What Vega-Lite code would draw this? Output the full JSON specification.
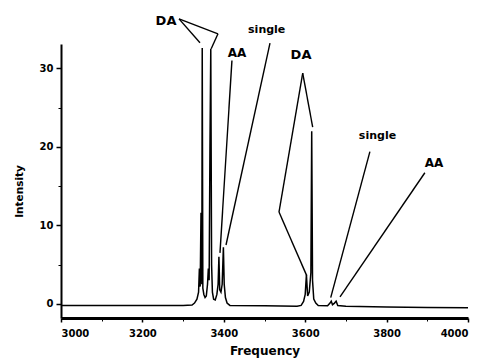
{
  "$schema": "https://vega.github.io/schema/vega-lite/v6.json",
  "width": 407,
  "height": 274,
  "autosize": {"type": "none"},
  "padding": {"left": 61, "top": 44, "right": 13, "bottom": 43},
  "background": "white",
  "config": {
    "view": {"stroke": null},
    "font": "DejaVu Sans",
    "axis": {
      "labelFont": "DejaVu Sans",
      "labelFontWeight": "bold",
      "labelFontSize": 10,
      "labelColor": "black",
      "titleFont": "DejaVu Sans",
      "titleFontWeight": "bold",
      "titleColor": "black",
      "domainColor": "black",
      "tickColor": "black",
      "grid": false
    }
  },
  "datasets": {
    "spectrum": [
      {"freq": 3000, "intensity": -0.2},
      {"freq": 3100, "intensity": -0.2},
      {"freq": 3200, "intensity": -0.2},
      {"freq": 3300, "intensity": -0.2},
      {"freq": 3322, "intensity": -0.15},
      {"freq": 3328, "intensity": 0.1},
      {"freq": 3334, "intensity": 0.6},
      {"freq": 3338, "intensity": 1.5},
      {"freq": 3340, "intensity": 4.5},
      {"freq": 3342, "intensity": 2.2},
      {"freq": 3344, "intensity": 11.6},
      {"freq": 3346, "intensity": 2.5},
      {"freq": 3347, "intensity": 32.6},
      {"freq": 3348.5, "intensity": 2},
      {"freq": 3351, "intensity": 1.2},
      {"freq": 3354, "intensity": 0.8},
      {"freq": 3357, "intensity": 1.0},
      {"freq": 3360, "intensity": 2.5},
      {"freq": 3362, "intensity": 4.5},
      {"freq": 3364, "intensity": 3},
      {"freq": 3366, "intensity": 20},
      {"freq": 3368, "intensity": 32.5},
      {"freq": 3370, "intensity": 5},
      {"freq": 3372, "intensity": 1.5},
      {"freq": 3375, "intensity": 0.6},
      {"freq": 3379, "intensity": 0.5},
      {"freq": 3383, "intensity": 1.2},
      {"freq": 3386, "intensity": 2.5},
      {"freq": 3388, "intensity": 6.0},
      {"freq": 3390, "intensity": 1.8},
      {"freq": 3393, "intensity": 1.5},
      {"freq": 3396, "intensity": 2.5},
      {"freq": 3399, "intensity": 7.2},
      {"freq": 3401, "intensity": 2.5},
      {"freq": 3404, "intensity": 0.8},
      {"freq": 3408, "intensity": 0.1},
      {"freq": 3415, "intensity": -0.2},
      {"freq": 3500, "intensity": -0.25},
      {"freq": 3580, "intensity": -0.3},
      {"freq": 3590, "intensity": -0.2},
      {"freq": 3596, "intensity": 0.3},
      {"freq": 3600, "intensity": 1.2},
      {"freq": 3603, "intensity": 3.7},
      {"freq": 3606, "intensity": 1.0},
      {"freq": 3610, "intensity": 1.5},
      {"freq": 3614, "intensity": 4},
      {"freq": 3616, "intensity": 22},
      {"freq": 3618, "intensity": 3},
      {"freq": 3621, "intensity": 0.6},
      {"freq": 3626, "intensity": 0.1},
      {"freq": 3632, "intensity": -0.2},
      {"freq": 3655, "intensity": -0.25},
      {"freq": 3661, "intensity": 0.1},
      {"freq": 3664, "intensity": 0.35},
      {"freq": 3667, "intensity": -0.1},
      {"freq": 3672, "intensity": 0.1},
      {"freq": 3676, "intensity": 0.35},
      {"freq": 3680, "intensity": -0.2},
      {"freq": 3700, "intensity": -0.3},
      {"freq": 3800, "intensity": -0.4},
      {"freq": 3900, "intensity": -0.45},
      {"freq": 4000, "intensity": -0.5}
    ],
    "pointers": [
      {"x": 3290, "y": 36.3, "x2": 3341.5, "y2": 33.25},
      {"x": 3290, "y": 36.3, "x2": 3385.7, "y2": 34.4},
      {"x": 3385.7, "y": 34.4, "x2": 3369, "y2": 32.5},
      {"x": 3420, "y": 31.0, "x2": 3390.6, "y2": 6.5},
      {"x": 3513.5, "y": 33.2, "x2": 3405.4, "y2": 7.5},
      {"x": 3593.9, "y": 29.4, "x2": 3618.4, "y2": 22.5},
      {"x": 3593.9, "y": 29.4, "x2": 3535.6, "y2": 11.7},
      {"x": 3535.6, "y": 11.7, "x2": 3603.7, "y2": 3.6},
      {"x": 3759, "y": 19.4, "x2": 3662.7, "y2": 0.8},
      {"x": 3894, "y": 16.7, "x2": 3685.5, "y2": 0.9}
    ],
    "labels": [
      {"x": 3258, "y": 36.05, "label": "DA", "size": 13},
      {"x": 3432.4, "y": 32.0, "label": "AA", "size": 12},
      {"x": 3505.4, "y": 34.9, "label": "single", "size": 11},
      {"x": 3589.7, "y": 31.66, "label": "DA", "size": 13},
      {"x": 3777.6, "y": 21.4, "label": "single", "size": 11},
      {"x": 3916.5, "y": 17.96, "label": "AA", "size": 12}
    ]
  },
  "resolve": {"axis": {"x": "independent", "y": "independent"}},
  "layer": [
    {
      "data": {"name": "spectrum"},
      "mark": {"type": "line", "color": "black", "strokeWidth": 1.5, "interpolate": "linear"},
      "encoding": {
        "x": {
          "field": "freq", "type": "quantitative",
          "scale": {"domain": [3000, 4000], "nice": false, "zero": false},
          "axis": {
            "title": "Frequency",
            "values": [3000, 3200, 3400, 3600, 3800, 4000],
            "format": "d",
            "domainWidth": 3,
            "tickSize": 4,
            "tickWidth": 1.5,
            "labelPadding": 6,
            "titleFontSize": 12,
            "titlePadding": 7
          }
        },
        "y": {
          "field": "intensity", "type": "quantitative",
          "scale": {"domain": [-1.8, 33.1], "nice": false, "zero": false},
          "axis": {
            "title": "Intensity",
            "values": [0, 10, 20, 30],
            "domainWidth": 2,
            "tickSize": 5,
            "tickWidth": 1.5,
            "labelPadding": 3,
            "titleFontSize": 10.5,
            "titleX": -37,
            "titleY": 147
          }
        }
      }
    },
    {
      "data": {"name": "pointers"},
      "mark": {"type": "rule", "color": "black", "strokeWidth": 1.4},
      "encoding": {
        "x": {"field": "x", "type": "quantitative",
          "axis": {"orient": "bottom", "values": [3100, 3300, 3500, 3700, 3900], "labels": false, "domain": false, "tickSize": 3, "tickWidth": 1, "title": null}},
        "y": {"field": "y", "type": "quantitative",
          "axis": {"orient": "left", "values": [5, 15, 25], "labels": false, "domain": false, "tickSize": 3, "tickWidth": 1, "title": null}},
        "x2": {"field": "x2"},
        "y2": {"field": "y2"}
      }
    },
    {
      "data": {"name": "labels"},
      "mark": {"type": "text", "color": "black", "fontWeight": "bold", "font": "DejaVu Sans", "align": "center", "baseline": "middle"},
      "encoding": {
        "x": {"field": "x", "type": "quantitative", "axis": null},
        "y": {"field": "y", "type": "quantitative", "axis": null},
        "text": {"field": "label"},
        "size": {"field": "size", "type": "quantitative", "scale": null, "legend": null}
      }
    }
  ]
}
